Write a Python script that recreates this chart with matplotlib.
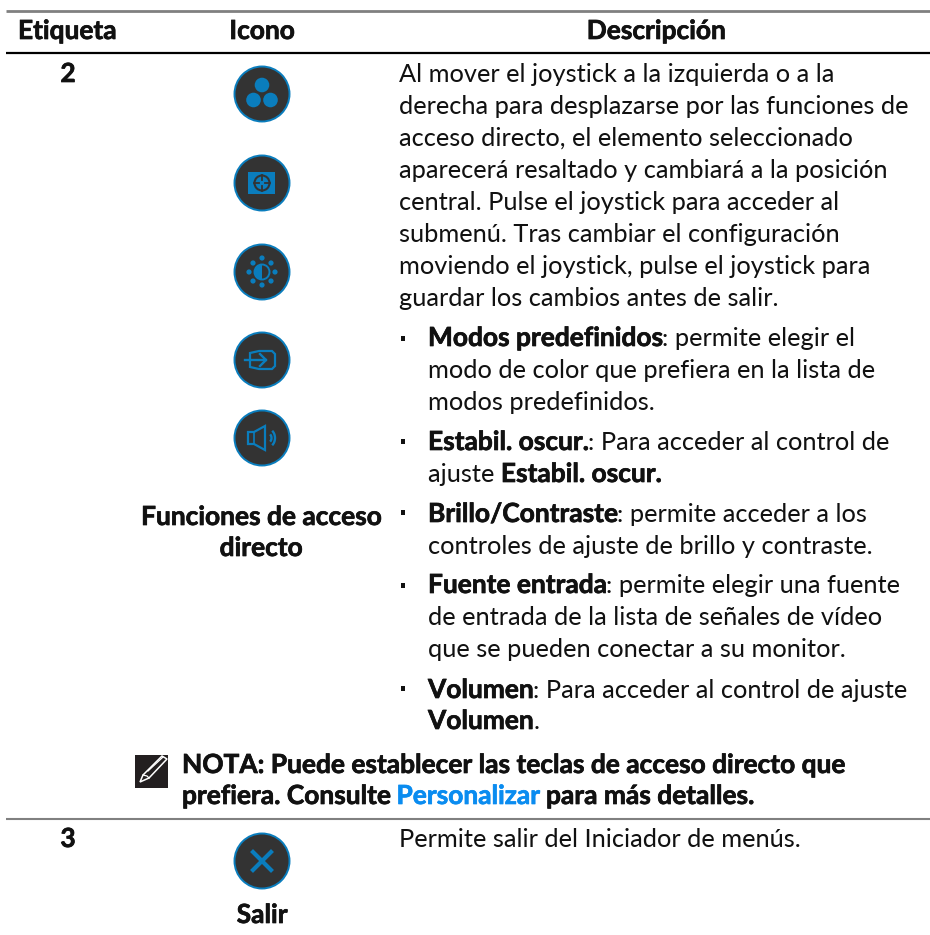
"""plot.py - table page from the monitor manual, drawn in pixel coordinates."""

import matplotlib
matplotlib.use("Agg")
import matplotlib.pyplot as plt
import matplotlib.patheffects as pe
from matplotlib.patches import Circle, Rectangle, Polygon, Arc, Wedge

plt.rcParams["font.family"] = ["Lato", "DejaVu Sans"]
plt.rcParams["text.hinting"] = "no_autohint"

W, H = 930, 935
BODY = 18.25
HEAVY = 18.95
DARK = "#333333"
BLUE = "#0a7dbd"
LINK = "#0a8cf0"
TXT = "#111111"

HEADERS = ["Etiqueta", "Icono", "Descripción"]
ROW_LABELS = ["2", "3"]
ICON_LABELS = ["Funciones de acceso", "directo", "Salir"]

INTRO = [
    "Al mover el joystick a la izquierda o a la",
    "derecha para desplazarse por las funciones de",
    "acceso directo, el elemento seleccionado",
    "aparecerá resaltado y cambiará a la posición",
    "central. Pulse el joystick para acceder al",
    "submenú. Tras cambiar el configuración",
    "moviendo el joystick, pulse el joystick para",
    "guardar los cambios antes de salir.",
]
INTRO_Y = [82, 114, 146, 178, 210, 242, 274, 306]

# each line: list of (text, bold)
BULLET_LINES = [
    [("Modos predefinidos", True), (": permite elegir el", False)],
    [("modo de color que prefiera en la lista de", False)],
    [("modos predefinidos.", False)],
    [("Estabil. oscur.", True), (": Para acceder al control de", False)],
    [("ajuste ", False), ("Estabil. oscur.", True)],
    [("Brillo/Contraste", True), (": permite acceder a los", False)],
    [("controles de ajuste de brillo y contraste.", False)],
    [("Fuente entrada", True), (": permite elegir una fuente", False)],
    [("de entrada de la lista de señales de vídeo", False)],
    [("que se pueden conectar a su monitor.", False)],
    [("Volumen", True), (": Para acceder al control de ajuste", False)],
    [("Volumen", True), (".", False)],
]
BULLET_Y = [346, 378, 410, 450, 482, 522, 554, 593, 625, 657, 698, 729]
BULLET_MARK_Y = [336, 439, 510, 583, 686]

NOTE_1 = "NOTA: Puede establecer las teclas de acceso directo que"
NOTE_2 = ["prefiera. Consulte ", "Personalizar", " para más detalles."]
EXIT_TEXT = "Permite salir del Iniciador de menús."


fig = plt.figure(figsize=(W / 100, H / 100), dpi=100)
ax = fig.add_axes([0, 0, 1, 1])
ax.set_xlim(0, W)
ax.set_ylim(H, 0)
ax.axis("off")
renderer = fig.canvas.get_renderer()


def label(x, y, s, ha="left", color=TXT):
    t = ax.text(x, y, s, fontsize=HEAVY, fontweight="bold", color=color, ha=ha)
    # the installed bold is lighter than the one in the manual
    t.set_path_effects([pe.withStroke(linewidth=0.5, foreground=color)])


def text_width(s, bold):
    kw = dict(fontsize=HEAVY, fontweight="bold") if bold else dict(fontsize=BODY)
    # pipes keep leading and trailing spaces in the measurement
    t1 = ax.text(0, 0, "|" + s + "|", **kw)
    t2 = ax.text(0, 0, "||", **kw)
    w = t1.get_window_extent(renderer).width - t2.get_window_extent(renderer).width
    t1.remove()
    t2.remove()
    return w


def draw_runs(x, y, runs, color=TXT):
    for s, bold in runs:
        if bold:
            label(x, y, s, color=color)
        else:
            ax.text(x, y, s, fontsize=BODY, color=color)
        x += text_width(s, bold)
    return x


def badge(cy):
    ax.add_patch(Circle((262, cy), 27.5, fc=DARK, ec=BLUE, lw=1.4, zorder=2))


def icon_modes(cy):
    badge(cy)
    for dx, dy in [(0, -9), (-8.5, 6), (8.5, 6)]:
        ax.add_patch(Circle((262 + dx, cy + dy), 7.3, fc=BLUE, ec="none", zorder=3))


def icon_dark(cy):
    badge(cy)
    ax.add_patch(Rectangle((248, cy - 11), 27, 22, fc=BLUE, ec="none", zorder=3))
    ax.add_patch(Circle((262, cy), 7.5, fc="none", ec=DARK, lw=1.5, zorder=4))
    for x0, y0, x1, y1 in [(262, cy - 8, 262, cy - 3), (262, cy + 3, 262, cy + 8),
                           (254, cy, 259, cy), (265, cy, 270, cy)]:
        ax.plot([x0, x1], [y0, y1], color=DARK, lw=1.3, zorder=4)


def icon_bright(cy):
    badge(cy)
    ax.add_patch(Circle((262, cy), 7.5, fc="none", ec=BLUE, lw=1.4, zorder=3))
    ax.add_patch(Wedge((262, cy), 7.5, 90, 270, fc=BLUE, ec="none", zorder=3))
    for dx, dy in [(0, -14), (9, -9), (13, 0), (9, 9), (0, 13), (-9, 9), (-13, 0), (-9, -9)]:
        ax.add_patch(Circle((262 + dx, cy + dy), 2.6, fc=BLUE, ec="none", zorder=3))


def icon_source(cy):
    badge(cy)
    ax.add_patch(Polygon([(250, cy - 7), (259, cy - 9), (272, cy - 9), (275, cy - 6),
                          (275, cy + 6), (272, cy + 9), (259, cy + 9), (250, cy + 7)],
                         closed=True, fc="none", ec=BLUE, lw=1.6, zorder=3))
    ax.plot([245, 266], [cy, cy], color=BLUE, lw=1.7, zorder=4)
    ax.plot([260, 266, 260], [cy - 6, cy, cy + 6], color=BLUE, lw=1.7, zorder=4)


def icon_volume(cy):
    badge(cy)
    ax.add_patch(Polygon([(248, cy - 6), (254, cy - 6), (265, cy - 12), (265, cy + 12),
                          (254, cy + 6), (248, cy + 6)],
                         closed=True, fc="none", ec=BLUE, lw=1.6, zorder=3))
    ax.plot([254, 254], [cy - 6, cy + 6], color=BLUE, lw=1.2, zorder=3)
    ax.add_patch(Arc((268, cy), 7, 9, theta1=-60, theta2=60, color=BLUE, lw=1.7, zorder=3))
    ax.add_patch(Arc((268, cy), 14, 18, theta1=-60, theta2=60, color=BLUE, lw=1.7, zorder=3))


def icon_exit(cy):
    badge(cy)
    ax.plot([253, 271], [cy - 9, cy + 9], color=BLUE, lw=3.0, zorder=3)
    ax.plot([253, 271], [cy + 9, cy - 9], color=BLUE, lw=3.0, zorder=3)


def note_icon():
    ax.add_patch(Rectangle((135, 755), 33, 33, fc="#231f20", ec="none", zorder=2))
    ax.add_patch(Polygon([(140, 782), (143, 775), (162, 756), (167, 759), (149, 778)],
                         closed=True, fc="none", ec="white", lw=1.1, zorder=3))
    ax.plot([143, 147, 149], [775, 776, 778], color="white", lw=0.9, zorder=3)
    ax.plot([148, 163], [771, 757], color="white", lw=0.9, zorder=3)


# rules
ax.plot([6, W], [11, 11], color="#808080", lw=2.0, solid_capstyle="butt")
ax.plot([6, W], [53, 53], color="black", lw=1.6, solid_capstyle="butt")
ax.plot([6, W], [819, 819], color="#808080", lw=1.5, solid_capstyle="butt")

# header
label(18, 39, HEADERS[0])
label(262, 39, HEADERS[1], ha="center")
label(656, 39, HEADERS[2], ha="center")

# first column
label(68, 82, ROW_LABELS[0], ha="center")
label(68, 847, ROW_LABELS[1], ha="center")

# icon column
icon_modes(94)
icon_dark(183)
icon_bright(272)
icon_source(360)
icon_volume(438)
icon_exit(861)
label(261, 525, ICON_LABELS[0], ha="center")
label(261, 556, ICON_LABELS[1], ha="center")
label(262, 923, ICON_LABELS[2], ha="center")

# description column
for line, y in zip(INTRO, INTRO_Y):
    ax.text(399, y, line, fontsize=BODY, color=TXT)
for runs, y in zip(BULLET_LINES, BULLET_Y):
    draw_runs(428, y, runs)
for y in BULLET_MARK_Y:
    ax.add_patch(Rectangle((400.5, y), 4.5, 4.5, fc=TXT, ec="none"))

# note
note_icon()
label(182, 773, NOTE_1)
nx = draw_runs(182, 804, [(NOTE_2[0], True)])
nx = draw_runs(nx, 804, [(NOTE_2[1], True)], color=LINK)
draw_runs(nx, 804, [(NOTE_2[2], True)])

ax.text(399, 847, EXIT_TEXT, fontsize=BODY, color=TXT)

fig.savefig("out.png", dpi=100)
